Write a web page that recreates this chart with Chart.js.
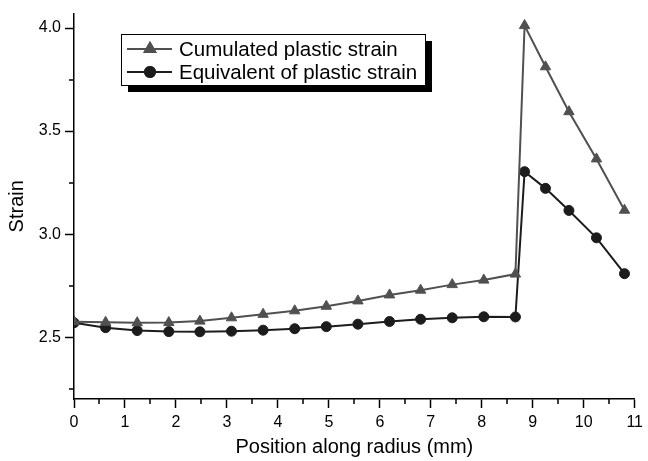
<!DOCTYPE html>
<html>
<head>
<meta charset="utf-8">
<script src="https://cdn.jsdelivr.net/npm/chart.js@4/dist/chart.umd.min.js"></script>
<style>
  html, body { margin: 0; padding: 0; background: #fff; }
  #wrap { width: 648px; height: 461px; }
</style>
</head>
<body>
<div id="wrap"><canvas id="strainCanvas"></canvas></div>
<script>
// position along radius (mm)
const positions = [0, 0.62, 1.24, 1.86, 2.47, 3.09, 3.71, 4.33, 4.95, 5.57, 6.19, 6.8, 7.42, 8.04, 8.66, 8.84, 9.25, 9.71, 10.25, 10.8];
const cumulated = [2.575, 2.572, 2.570, 2.571, 2.578, 2.594, 2.611, 2.628, 2.650, 2.676, 2.705, 2.728, 2.755, 2.777, 2.806, 4.012, 3.812, 3.594, 3.365, 3.116];
const equivalent = [2.570, 2.546, 2.532, 2.527, 2.526, 2.529, 2.534, 2.541, 2.551, 2.563, 2.576, 2.587, 2.594, 2.599, 2.598, 3.303, 3.222, 3.115, 2.982, 2.808];

const seriesNames = ["Cumulated plastic strain", "Equivalent of plastic strain"];

const xTicks = [0, 1, 2, 3, 4, 5, 6, 7, 8, 9, 10, 11];
const xMinor = [0.5, 1.5, 2.5, 3.5, 4.5, 5.5, 6.5, 7.5, 8.5, 9.5, 10.5];
const yTicks = [2.5, 3.0, 3.5, 4.0];
const yMinor = [2.25, 2.75, 3.25, 3.75];

const FONT = 'Arial, "Liberation Sans", sans-serif';
const grey = 'rgb(80,80,80)';
const dark = 'rgb(28,28,28)';

function toPoints(ys) {
    return positions.map((x, i) => ({ x: x, y: ys[i] }));
}

// small ticks between the labelled ones
const minorTicks = {
    id: 'minorTicks',
    afterDraw(chart) {
        const ctx = chart.ctx;
        const xs = chart.scales.x;
        const ys = chart.scales.y;
        ctx.save();
        ctx.strokeStyle = '#000';
        ctx.lineWidth = 1.5;
        ctx.beginPath();
        xMinor.forEach(v => {
            const px = Math.round(xs.getPixelForValue(v));
            ctx.moveTo(px, xs.top);
            ctx.lineTo(px, xs.top + 5);
        });
        yMinor.forEach(v => {
            const py = Math.round(ys.getPixelForValue(v));
            ctx.moveTo(ys.right, py);
            ctx.lineTo(ys.right - 5, py);
        });
        ctx.stroke();
        ctx.restore();
    }
};

// boxed legend with a drop shadow, like the original
const boxLegend = {
    id: 'boxLegend',
    afterDraw(chart) {
        const ctx = chart.ctx;
        const bx = 121, by = 34, bw = 304, bh = 51;
        ctx.save();
        ctx.fillStyle = '#000';
        ctx.fillRect(bx + 7, by + 7, bw, bh);
        ctx.fillStyle = '#fff';
        ctx.fillRect(bx, by, bw, bh);
        ctx.strokeStyle = '#000';
        ctx.lineWidth = 1;
        ctx.strokeRect(bx + 0.5, by + 0.5, bw, bh);

        chart.data.datasets.forEach((ds, i) => {
            const cy = by + 15 + i * 23;
            ctx.strokeStyle = ds.borderColor;
            ctx.lineWidth = 2;
            ctx.beginPath();
            ctx.moveTo(bx + 6, cy);
            ctx.lineTo(bx + 51, cy);
            ctx.stroke();
            Chart.helpers.drawPoint(ctx, {
                pointStyle: ds.pointStyle,
                radius: ds.pointRadius,
                borderWidth: 1
            }, bx + 29, cy);
            ctx.fillStyle = ds.pointBackgroundColor;
            ctx.strokeStyle = ds.pointBorderColor;
            ctx.fill();
            ctx.stroke();

            ctx.fillStyle = '#000';
            ctx.font = '20.5px ' + FONT;
            ctx.textBaseline = 'middle';
            ctx.fillText(ds.label, bx + 58, cy + 1);
        });
        ctx.restore();
    }
};

const strainChart = new Chart(document.getElementById('strainCanvas'), {
    type: 'line',
    data: {
        datasets: [{
            label: seriesNames[0],
            data: toPoints(cumulated),
            borderColor: grey,
            borderWidth: 2,
            pointStyle: 'triangle',
            pointRadius: 6,
            pointBackgroundColor: grey,
            pointBorderColor: grey,
            pointBorderWidth: 1,
            tension: 0
        }, {
            label: seriesNames[1],
            data: toPoints(equivalent),
            borderColor: dark,
            borderWidth: 2,
            pointStyle: 'circle',
            pointRadius: 5,
            pointBackgroundColor: dark,
            pointBorderColor: dark,
            pointBorderWidth: 1,
            tension: 0
        }]
    },
    options: {
        responsive: true,
        maintainAspectRatio: false,
        animation: false,
        layout: { padding: { left: 0, top: 10, right: 10, bottom: 0 } },
        plugins: {
            legend: { display: false },
            tooltip: { enabled: false }
        },
        scales: {
            x: {
                type: 'linear',
                min: 0,
                max: 11,
                afterBuildTicks: s => { s.ticks = xTicks.map(v => ({ value: v })); },
                afterFit: s => { s.height = 62; },
                grid: { drawOnChartArea: false, drawTicks: true, tickLength: 9, color: '#000', tickWidth: 1.5 },
                border: { display: true, color: '#000', width: 1.5 },
                ticks: { color: '#000', font: { family: FONT, size: 16 }, padding: 5, maxRotation: 0 },
                title: { display: true, text: 'Position along radius (mm)', color: '#000', font: { family: FONT, size: 20 }, padding: { top: 0, bottom: 2 } }
            },
            y: {
                type: 'linear',
                min: 2.2,
                max: 4.07,
                afterBuildTicks: s => { s.ticks = yTicks.map(v => ({ value: v })); },
                afterFit: s => { s.width = 74; },
                grid: { drawOnChartArea: false, drawTicks: true, tickLength: 9, color: '#000', tickWidth: 1.5 },
                border: { display: true, color: '#000', width: 1.5 },
                ticks: { color: '#000', font: { family: FONT, size: 16 }, padding: 4, callback: v => v.toFixed(1) },
                title: { display: true, text: 'Strain', color: '#000', font: { family: FONT, size: 20 }, padding: { top: 5, bottom: 0 } }
            }
        }
    },
    plugins: [minorTicks, boxLegend]
});
</script>
</body>
</html>
